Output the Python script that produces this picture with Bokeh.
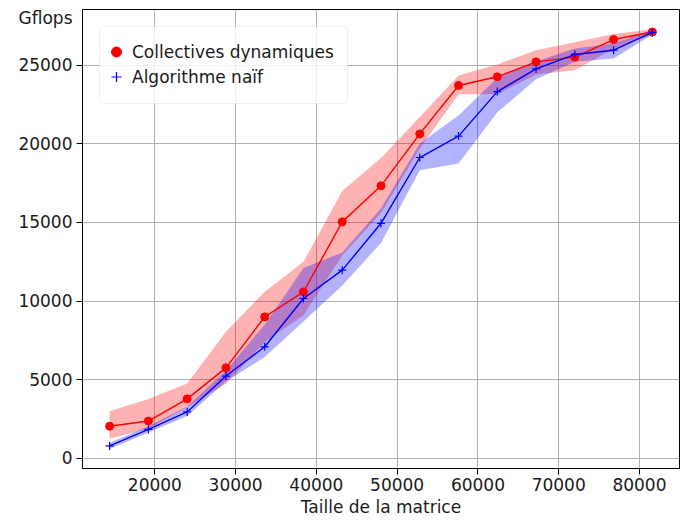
from bokeh.plotting import figure
from bokeh.models import (Range1d, FixedTicker, Legend, LegendItem,
                          BoxAnnotation, ColumnDataSource)
from bokeh.embed import file_html
from bokeh.resources import INLINE

# Matrix sizes
taille = [14400, 19200, 24000, 28800, 33600, 38400, 43200, 48000,
          52800, 57600, 62400, 67200, 72000, 76800, 81600]

# Collectives dynamiques: mean, lower and upper bound (Gflops)
coll_mean = [2050, 2380, 3790, 5760, 9000, 10590, 15040, 17330,
             20630, 23710, 24260, 25210, 25510, 26630, 27110]
coll_low = [1250, 1900, 3250, 4750, 7400, 9100, 12900, 15600,
            19700, 23150, 23150, 24400, 24680, 26050, 26950]
coll_high = [3000, 3780, 4770, 8050, 10600, 12500, 17000, 19100,
             21700, 24350, 25050, 25950, 26450, 26980, 27280]

# Algorithme naif: mean, lower and upper bound (Gflops)
naif_mean = [800, 1850, 2960, 5240, 7100, 10170, 11970, 14950,
             19130, 20490, 23320, 24760, 25680, 25950, 27080]
naif_low = [600, 1650, 2700, 4900, 6450, 8700, 11000, 13700,
            18320, 18750, 22000, 24100, 25210, 25420, 26950]
naif_high = [1000, 2050, 3300, 5600, 8500, 12100, 13100, 15900,
             20020, 21800, 24200, 25240, 26060, 26380, 27250]

x_ticks = [20000, 30000, 40000, 50000, 60000, 70000, 80000]
y_ticks = [0, 5000, 10000, 15000, 20000, 25000]

FONT = "DejaVu Sans"
FS = "17px"
TXT = "#1a1a1a"

src = ColumnDataSource(dict(x=taille,
                            cm=coll_mean, cl=coll_low, ch=coll_high,
                            nm=naif_mean, nl=naif_low, nh=naif_high))

Y0, Y1 = -636, 28538
FRAME_H = 459
x_range = Range1d(11040, 84960)
y_range = Range1d(Y0, Y1)

p = figure(width=683, height=520, output_backend="svg", toolbar_location=None,
           x_range=x_range, y_range=y_range,
           min_border_left=82, min_border_right=4,
           min_border_top=9, min_border_bottom=52)

# spread bands
p.varea(x="x", y1="cl", y2="ch", source=src, fill_color="red", fill_alpha=0.3)
p.varea(x="x", y1="nl", y2="nh", source=src, fill_color="blue", fill_alpha=0.3)

# mean curves
p.line(x="x", y="cm", source=src, line_color="red", line_width=1.4)
r_coll = p.scatter(x="x", y="cm", source=src, marker="circle", size=8,
                   fill_color="red", line_color="red")
p.line(x="x", y="nm", source=src, line_color="blue", line_width=1.4)
r_naif = p.scatter(x="x", y="nm", source=src, marker="cross", size=8,
                   line_color="blue", line_width=1.2)

# axes and grid
for ax in (p.xaxis[0], p.yaxis[0]):
    ax.axis_line_color = "black"
    ax.axis_line_width = 1
    ax.major_tick_line_color = "black"
    ax.major_tick_out = 6
    ax.major_tick_in = 0
    ax.minor_tick_line_color = None
    ax.major_label_text_font = FONT
    ax.major_label_text_font_size = FS
    ax.major_label_text_color = TXT
    ax.major_label_standoff = 3

p.xaxis.ticker = FixedTicker(ticks=x_ticks)
p.xaxis.axis_label = "Taille de la matrice"
p.xaxis.axis_label_text_font = FONT
p.xaxis.axis_label_text_font_size = FS
p.xaxis.axis_label_text_font_style = "normal"
p.xaxis.axis_label_text_color = TXT
p.xaxis.axis_label_standoff = 3

# y axis: the unit "Gflops" sits as an extra label 8px below the frame top;
# tick marks are drawn as minor ticks so only real values get one
unit_pos = Y1 - 8 * (Y1 - Y0) / FRAME_H
yax = p.yaxis[0]
yax.ticker = FixedTicker(ticks=y_ticks + [unit_pos], minor_ticks=y_ticks)
yax.major_label_overrides = {unit_pos: "Gflops"}
yax.major_tick_line_color = None
yax.major_tick_out = 6
yax.minor_tick_line_color = "black"
yax.minor_tick_out = 6
yax.minor_tick_in = 0
yax.major_label_standoff = 4

p.ygrid.ticker = FixedTicker(ticks=y_ticks)
p.grid.grid_line_color = "#b0b0b0"
p.grid.grid_line_width = 1
p.outline_line_color = "black"
p.outline_line_width = 1

# legend frame
p.add_layout(BoxAnnotation(left=17, right=265, top=442, bottom=365,
                           left_units="screen", right_units="screen",
                           top_units="screen", bottom_units="screen",
                           fill_color="white", fill_alpha=0.8,
                           line_color="#cccccc", line_width=1,
                           border_radius=4))

legend = Legend(items=[LegendItem(label="Collectives dynamiques", renderers=[r_coll]),
                       LegendItem(label="Algorithme naïf", renderers=[r_naif])],
                location=(20, 379), padding=0, spacing=0, margin=0,
                glyph_width=28, glyph_height=25, label_height=25,
                label_standoff=2,
                label_text_font=FONT, label_text_font_size=FS,
                label_text_color=TXT,
                background_fill_alpha=0, border_line_color=None)
p.add_layout(legend)

open("out.html", "w").write(file_html(p, INLINE))
